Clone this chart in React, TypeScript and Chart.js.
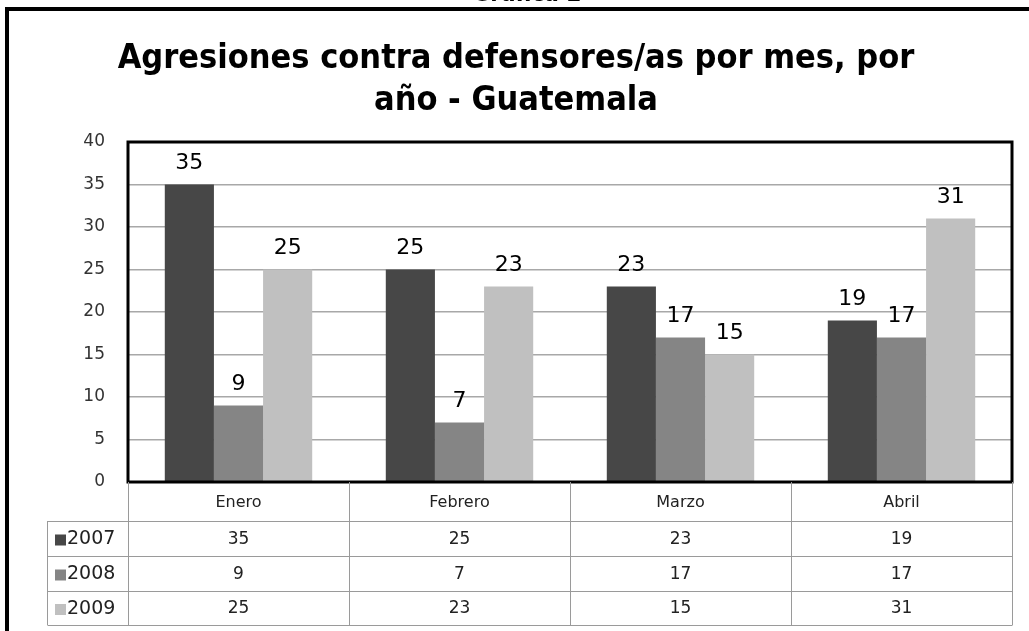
import React, { useEffect, useRef } from "react";
import { Chart, registerables } from "chart.js";

Chart.register(...registerables);

const categories = ["Enero", "Febrero", "Marzo", "Abril"];
const seriesNames = ["2007", "2008", "2009"];
const values2007 = [35, 25, 23, 19];
const values2008 = [9, 7, 17, 17];
const values2009 = [25, 23, 15, 31];
const seriesColors = ["#474747", "#858585", "#c0c0c0"];
const titleLines = ["Agresiones contra defensores/as por mes, por", "año - Guatemala"];
const topCaption = "Gráfica 2";
const yMax = 40;
const yStep = 5;

const FONT = "'DejaVu Sans', sans-serif";
const TITLE_FONT = "'Liberation Sans Narrow', 'DejaVu Sans Condensed', 'Open Sans', sans-serif";

const framePlugin = {
  id: "framePlugin",
  beforeDraw(chart: any) {
    const { ctx, width, height } = chart;
    ctx.save();
    ctx.fillStyle = "#ffffff";
    ctx.fillRect(0, 0, width, height);
    // outer frame
    ctx.fillStyle = "#000";
    ctx.fillRect(5, 7, width - 5, 4);
    ctx.fillRect(5, 7, 4, height - 7);
    // caption above frame (mostly cut off)
    ctx.font = `bold 24px ${TITLE_FONT}`;
    ctx.textAlign = "center";
    ctx.textBaseline = "alphabetic";
    ctx.fillText(topCaption, 527, 1);
    // title
    ctx.font = `bold 34px ${TITLE_FONT}`;
    ctx.fillText(titleLines[0], 516, 68);
    ctx.fillText(titleLines[1], 516, 110);
    ctx.restore();
  },
  afterDraw(chart: any) {
    const { ctx, chartArea } = chart;
    const { left, right, top, bottom } = chartArea;
    const xs = chart.scales.x;
    ctx.save();
    // data labels
    ctx.font = `22px ${FONT}`;
    ctx.fillStyle = "#000";
    ctx.textAlign = "center";
    ctx.textBaseline = "alphabetic";
    chart.data.datasets.forEach((ds: any, di: number) => {
      const meta = chart.getDatasetMeta(di);
      meta.data.forEach((bar: any, i: number) => {
        ctx.fillText(String(ds.data[i]), bar.x, bar.y - 16);
      });
    });
    // plot border
    ctx.strokeStyle = "#000";
    ctx.lineWidth = 3;
    ctx.strokeRect(left, top, right - left, bottom - top);

    // data table
    const catW = (right - left) / categories.length;
    const rowH = [39, 35, 35, 34];
    const rowsY: number[] = [bottom];
    rowH.forEach((h) => rowsY.push(rowsY[rowsY.length - 1] + h));
    const legendLeft = 47.5;
    ctx.strokeStyle = "#9a9a9a";
    ctx.lineWidth = 1;
    ctx.beginPath();
    for (let i = 0; i <= categories.length; i++) {
      const x = Math.round(left + i * catW) + 0.5;
      ctx.moveTo(x, bottom);
      ctx.lineTo(x, rowsY[4]);
    }
    ctx.moveTo(legendLeft, rowsY[1]);
    ctx.lineTo(legendLeft, rowsY[4]);
    for (let r = 1; r <= 4; r++) {
      const y = Math.round(rowsY[r]) + 0.5;
      ctx.moveTo(legendLeft, y);
      ctx.lineTo(Math.round(right) + 0.5, y);
    }
    ctx.stroke();

    ctx.fillStyle = "#222";
    ctx.font = `16px ${FONT}`;
    ctx.textBaseline = "middle";
    ctx.textAlign = "center";
    categories.forEach((c, i) => {
      const cx = xs.getPixelForValue(i);
      ctx.fillText(c, cx, (rowsY[0] + rowsY[1]) / 2 + 1);
    });
    chart.data.datasets.forEach((ds: any, di: number) => {
      const cy = (rowsY[di + 1] + rowsY[di + 2]) / 2 + 1;
      ctx.font = `17px ${FONT}`;
      ds.data.forEach((v: number, i: number) => {
        ctx.fillStyle = "#222";
        ctx.textAlign = "center";
        ctx.fillText(String(v), xs.getPixelForValue(i), cy);
      });
      ctx.fillStyle = ds.backgroundColor;
      ctx.fillRect(55, cy - 5, 11, 11);
      ctx.fillStyle = "#222";
      ctx.textAlign = "left";
      ctx.font = `19px ${FONT}`;
      ctx.fillText(seriesNames[di], 67, cy);
    });
    ctx.restore();
  },
};

export default function App() {
  const ref = useRef<HTMLCanvasElement | null>(null);
  useEffect(() => {
    if (!ref.current) return;
    const series = [values2007, values2008, values2009];
    const chart = new Chart(ref.current, {
      type: "bar",
      data: {
        labels: categories,
        datasets: series.map((d, i) => ({
          label: seriesNames[i],
          data: d,
          backgroundColor: seriesColors[i],
          borderWidth: 0,
          categoryPercentage: 0.667,
          barPercentage: 1.0,
        })),
      },
      options: {
        responsive: false,
        devicePixelRatio: 1,
        animation: false,
        layout: { padding: { top: 142, left: 0, right: 17, bottom: 149 } },
        plugins: {
          legend: { display: false },
          title: { display: false },
          tooltip: { enabled: false },
        },
        scales: {
          x: { display: false, grid: { display: false } },
          y: {
            min: 0,
            max: yMax,
            afterFit: (s: any) => {
              s.width = 128;
            },
            ticks: {
              stepSize: yStep,
              padding: 23,
              color: "#333",
              font: { family: FONT, size: 17 },
            },
            grid: { color: "#a8a8a8", lineWidth: 1.5, drawTicks: false },
            border: { display: false },
          },
        },
      },
      plugins: [framePlugin],
    });
    return () => chart.destroy();
  }, []);
  return (
    <div style={{ position: "fixed", left: 0, top: 0, width: 1029, height: 631 }}>
      <canvas ref={ref} width={1029} height={631} />
    </div>
  );
}
